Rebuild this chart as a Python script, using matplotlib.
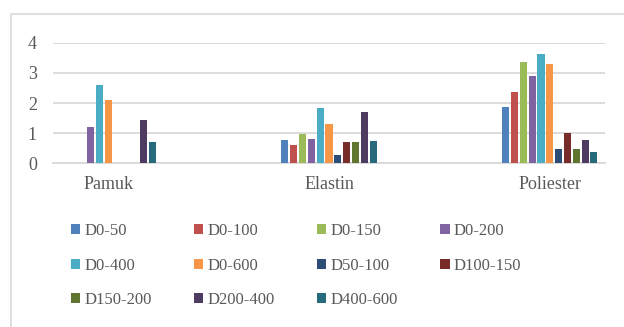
import matplotlib
matplotlib.use("Agg")
import matplotlib.pyplot as plt
from matplotlib.patches import Rectangle, Patch
import numpy as np

categories = ["Pamuk", "Elastin", "Poliester"]
series_names = ["D0-50", "D0-100", "D0-150", "D0-200", "D0-400", "D0-600",
                "D50-100", "D100-150", "D150-200", "D200-400", "D400-600"]
series_colors = ["#4F81BD", "#C0504D", "#9BBB59", "#8064A2", "#4BACC6", "#F79646",
                 "#2C4D75", "#772C2A", "#5F7530", "#4D3B62", "#276A7C"]

# values per series: [Pamuk, Elastin, Poliester]
d0_50 = [0.0, 0.76, 1.87]
d0_100 = [0.0, 0.61, 2.36]
d0_150 = [0.0, 0.96, 3.35]
d0_200 = [1.19, 0.82, 2.89]
d0_400 = [2.60, 1.85, 3.62]
d0_600 = [2.10, 1.32, 3.31]
d50_100 = [0.0, 0.26, 0.47]
d100_150 = [0.0, 0.69, 0.99]
d150_200 = [0.0, 0.72, 0.46]
d200_400 = [1.45, 1.69, 0.78]
d400_600 = [0.72, 0.75, 0.37]

series_values = [d0_50, d0_100, d0_150, d0_200, d0_400, d0_600,
                 d50_100, d100_150, d150_200, d200_400, d400_600]

yticks = [0, 1, 2, 3, 4]

W, H = 624, 327
plt.rcParams["font.family"] = ["Liberation Serif", "DejaVu Serif"]
text_color = "#595959"
grid_color = "#D9D9D9"

fig = plt.figure(figsize=(W / 100, H / 100), dpi=100)
fig.patch.set_facecolor("white")

# chart-area frame
fig.patches.append(Rectangle((10.5 / W, -0.05), 1.1, 1 - 13.5 / H + 0.05,
                             transform=fig.transFigure, fill=False,
                             edgecolor=grid_color, linewidth=1.2))

ax = fig.add_axes([53 / W, 1 - 163.3 / H, (605 - 53) / W, (163.3 - 42.7) / H])

x = np.arange(len(categories))
step = 0.04
width = 0.032
n = len(series_names)
for i, (name, vals, col) in enumerate(zip(series_names, series_values, series_colors)):
    ax.bar(x + (i - (n - 1) / 2) * step, vals, width=width, color=col,
           label=name, zorder=3)

ax.set_xlim(-0.25, 2.25)
ax.set_ylim(0, 4)
ax.set_yticks(yticks)
ax.set_xticks(x)
ax.set_xticklabels(categories)
ax.yaxis.grid(True, color=grid_color, linewidth=1.3, zorder=0)
ax.set_axisbelow(True)
for s in ["left", "right", "top"]:
    ax.spines[s].set_visible(False)
ax.spines["bottom"].set_color(grid_color)
ax.spines["bottom"].set_linewidth(1.3)
ax.tick_params(axis="both", length=0, colors=text_color, labelsize=13)
ax.tick_params(axis="y", pad=11.5)
ax.tick_params(axis="x", pad=9)

# legend entries laid out row by row in 4 columns
ncol = 4
nrow = int(np.ceil(n / ncol))
order = [r * ncol + c for c in range(ncol) for r in range(nrow) if r * ncol + c < n]
handles = [Patch(facecolor=series_colors[k], edgecolor="none") for k in order]
labels = [series_names[k] for k in order]
leg = fig.legend(handles, labels, ncol=ncol, frameon=False,
                 loc="upper left", bbox_to_anchor=(71 / W, 1 - 223 / H),
                 fontsize=12, handlelength=0.55, handleheight=0.55,
                 handletextpad=0.25, columnspacing=2.55, labelspacing=1.12,
                 borderpad=0, borderaxespad=0)
for t in leg.get_texts():
    t.set_color(text_color)

fig.savefig("out.png", dpi=100, facecolor="white")
